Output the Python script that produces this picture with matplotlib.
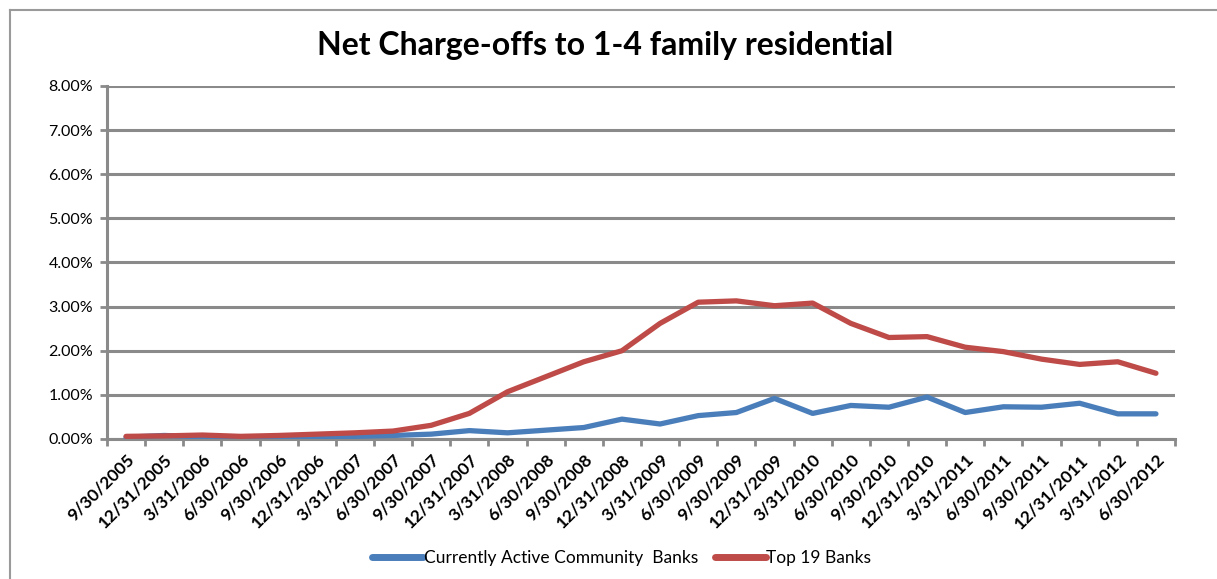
import numpy as np
import matplotlib.pyplot as plt
from matplotlib.ticker import FuncFormatter

# Quarter-end dates and net charge-off rates (percent)
quarters = [
    "9/30/2005", "12/31/2005", "3/31/2006", "6/30/2006", "9/30/2006", "12/31/2006",
    "3/31/2007", "6/30/2007", "9/30/2007", "12/31/2007", "3/31/2008", "6/30/2008",
    "9/30/2008", "12/31/2008", "3/31/2009", "6/30/2009", "9/30/2009", "12/31/2009",
    "3/31/2010", "6/30/2010", "9/30/2010", "12/31/2010", "3/31/2011", "6/30/2011",
    "9/30/2011", "12/31/2011", "3/31/2012", "6/30/2012",
]
community = [
    0.04, 0.08, 0.05, 0.03, 0.04, 0.05, 0.06, 0.08, 0.11, 0.19, 0.14, 0.20,
    0.26, 0.45, 0.34, 0.53, 0.60, 0.92, 0.58, 0.76, 0.72, 0.95, 0.60, 0.73,
    0.72, 0.81, 0.57, 0.57,
]
top19 = [
    0.06, 0.07, 0.09, 0.06, 0.08, 0.11, 0.14, 0.18, 0.31, 0.58, 1.07, 1.41,
    1.75, 2.00, 2.62, 3.10, 3.13, 3.02, 3.08, 2.62, 2.30, 2.32, 2.08, 1.98,
    1.81, 1.69, 1.75, 1.49,
]

grid_grey = "#8a8a8a"
blue = "#4a7ebb"
red = "#be4b48"

plt.rcParams["font.family"] = ["Lato", "DejaVu Sans"]

fig = plt.figure(figsize=(12.17, 5.79), dpi=100)
ax = fig.add_axes([0.0879, 0.2418, 0.8776, 0.6097])

x = np.arange(len(quarters))
ax.plot(x, community, color=blue, lw=3.8, solid_capstyle="round",
        label="Currently Active Community  Banks", zorder=3)
ax.plot(x, top19, color=red, lw=3.8, solid_capstyle="round",
        label="Top 19 Banks", zorder=3)

ax.set_xlim(-0.5, len(quarters) - 0.5)
ax.set_ylim(0, 8)
ax.set_yticks(np.arange(0, 9, 1))
ax.yaxis.set_major_formatter(FuncFormatter(lambda v, _: f"{v:.2f}%"))
ax.yaxis.grid(True, color=grid_grey, lw=2.2)
ax.set_axisbelow(True)

# boundary ticks between quarters, labels centered on each quarter
ax.set_xticks(np.arange(len(quarters) + 1) - 0.5)
ax.set_xticklabels([])
ax.set_xticks(x, minor=True)
ax.set_xticklabels(quarters, minor=True, rotation=45, ha="right",
                   rotation_mode="anchor", fontsize=12.5, fontweight="bold")
ax.tick_params(axis="x", which="minor", length=0, pad=9)
ax.tick_params(axis="x", which="major", length=5, width=2, color=grid_grey)
ax.tick_params(axis="y", length=5, width=2, color=grid_grey, labelsize=11.5, pad=5)

for side in ["top", "right"]:
    ax.spines[side].set_visible(False)
for side in ["left", "bottom"]:
    ax.spines[side].set_color(grid_grey)
    ax.spines[side].set_linewidth(2.2)

fig.text(0.497, 0.922, "Net Charge-offs to 1-4 family residential",
         ha="center", va="center", fontsize=23, fontweight="bold")

leg = fig.legend(loc="center", bbox_to_anchor=(0.511, 0.036), ncol=2,
                 frameon=False, fontsize=12.5, handlelength=2.9,
                 columnspacing=1.0, handletextpad=0.05)
for h in leg.legend_handles:
    h.set_linewidth(5)

# chart frame (left and top edges)
fig.add_artist(plt.Line2D([10 / 1217, 10 / 1217], [0, 1 - 10 / 579],
                          color="#9a9a9a", lw=1.5, transform=fig.transFigure))
fig.add_artist(plt.Line2D([10 / 1217, 1], [1 - 10 / 579, 1 - 10 / 579],
                          color="#9a9a9a", lw=1.5, transform=fig.transFigure))

fig.savefig("out.png", dpi=100)
